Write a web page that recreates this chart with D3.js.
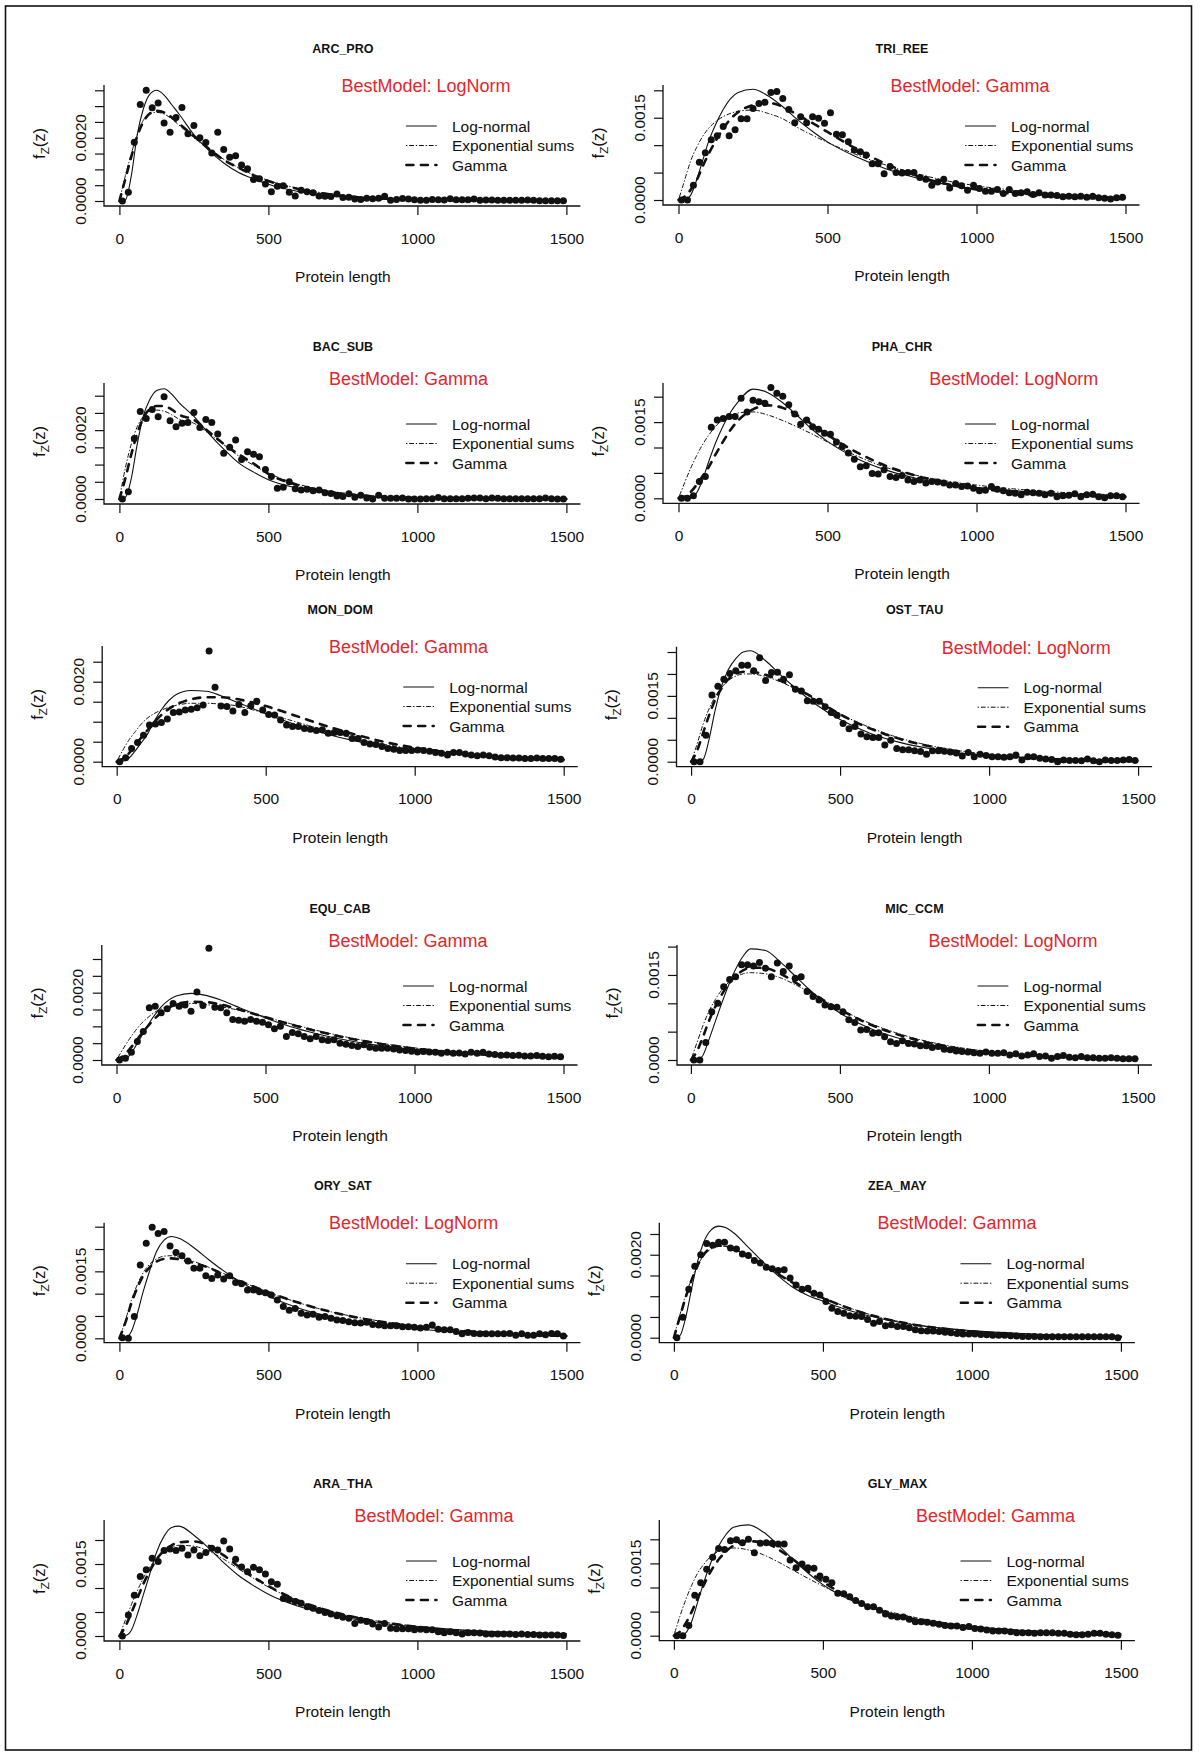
<!DOCTYPE html>
<html><head><meta charset="utf-8">
<script src="https://cdn.jsdelivr.net/npm/d3@7"></script>
<style>
body{margin:0;background:#fff}
svg text{font-family:"Liberation Sans",Arial,Helvetica,sans-serif;fill:#111}
</style>
</head><body>
<svg id="chart" width="1200" height="1757"></svg>
<script>
// ---------------- DATA (density values in units of 1e-4) ----------------
const DENSITY_UNIT = 1e-4;
const proteinLengths = [10,30,50,70,90,110,130,150,170,190,210,230,250,270,290,310,330,350,370,390,410,430,450,470,490,510,530,550,570,590,610,630,650,670,690,710,730,750,770,790,810,830,850,870,890,910,930,950,970,990,1010,1030,1050,1070,1090,1110,1130,1150,1170,1190,1210,1230,1250,1270,1290,1310,1330,1350,1370,1390,1410,1430,1450,1470,1490];
const curveLengths = [0,20,40,60,80,100,125,150,175,200,250,300,350,400,450,500,600,700,800,900,1000,1200,1500];

const speciesNames = ["ARC_PRO","TRI_REE","BAC_SUB","PHA_CHR","MON_DOM","OST_TAU","EQU_CAB","MIC_CCM","ORY_SAT","ZEA_MAY","ARA_THA","GLY_MAX"];
const bestModelLabels = ["LogNorm","Gamma","Gamma","LogNorm","Gamma","LogNorm","Gamma","LogNorm","LogNorm","Gamma","Gamma","Gamma"];
const legendLabels = ["Log-normal","Exponential sums","Gamma"];
const xTickValues = [0,500,1000,1500];
const yTickStep = 0.0005;
const yTickMaxima = [0.0035,0.002,0.003,0.002,0.0025,0.0025,0.003,0.002,0.0025,0.0025,0.002,0.002];
const yTickLabels = [["0.0000","0.0020"],["0.0000","0.0015"],["0.0000","0.0020"],["0.0000","0.0015"],["0.0000","0.0020"],["0.0000","0.0015"],["0.0000","0.0020"],["0.0000","0.0015"],["0.0000","0.0015"],["0.0000","0.0020"],["0.0000","0.0015"],["0.0000","0.0015"]];

// observed points
const arcProObs = [0,2.8,18.6,30.5,35,29.5,31,24.7,21.7,26.4,29.6,21.3,23.9,20,18.5,15.2,21.7,16.3,13.8,14.3,11.4,10.2,6.8,7.0,5.4,2.9,4.7,4.8,2.8,1.6,3.4,2.9,2.6,1.6,1.5,1.4,2.2,1.1,1.2,0.6,0.5,0.9,0.7,0.9,1.5,0.2,0.5,0.8,0.6,0.4,0.2,0.2,0.5,0.4,0.3,0.7,0.4,0.4,0.4,0.6,0.2,0.3,0.3,0.2,0.2,0.2,0.2,0.2,0.3,0.2,0.1,0.1,0.1,0.1,0.1];
const triReeObs = [0,0,2.7,6.9,8.6,11,11.7,13.4,11.7,12.8,14.8,14.8,16.7,17.6,17.8,19.6,19.8,18.5,16.5,14.1,15.2,14.1,15.2,14.9,14.0,15.9,12.0,11.9,10.6,9.1,8.8,8.2,6.6,6.6,4.8,6.1,5.0,4.9,5.0,5.0,4.1,3.8,2.7,3.3,3.8,2.2,3.0,2.6,1.8,2.7,2.1,1.6,1.6,1.9,1.2,1.9,1.2,1.3,1.5,1.0,1.3,0.9,0.9,0.8,0.6,0.7,0.6,0.7,0.5,0.7,0.4,0.3,0.2,0.4,0.5];
const bacSubObs = [0,2.1,17.6,25.4,23.4,26,23.9,29.7,22.7,21,22,22.2,25.1,20.8,23.1,22.2,18.9,13.3,15,17.1,11.5,13.7,13,12.3,8.6,6.5,3.1,3.4,5,3,2.6,2.8,2.4,2.6,1.8,1.6,0.9,0.7,1.5,0.5,1.1,0.3,0,1.1,0.2,0.2,0.2,0.3,0,0,0,0.1,0.1,0.4,0.1,0.1,0.1,0.1,0.2,0.3,0.3,0.1,0.3,0.2,0.1,0.1,0.1,0.1,0.1,0.1,0.1,0.3,0.1,0,0];
const phaChrObs = [0,0,0.5,3.3,4.3,14,15.4,15.7,16.1,16.1,19.7,17,19.3,19,18.7,21.8,20.7,20.1,18.4,16.6,14.6,15.4,14.1,13.6,12.8,12.6,11.1,10.2,8.9,7.7,6.2,6.4,4.9,4.8,5.6,4.3,4.1,4.5,3.6,3.3,3.6,3,3.3,3.2,3,2.6,2.6,2.3,2.4,2,1.5,1.6,2.3,1.8,1.5,1.1,1,0.7,1.2,1.1,1,0.7,1,0.3,0.5,0.6,0.9,0.3,0.7,0.8,0.3,0.1,0.5,0.5,0.3];
const monDomObs = [0,1,3.3,4.8,6.6,9.2,9.4,9.8,10.7,12.3,12.4,12.9,13.1,13.5,14.2,27.7,18.6,13.9,13.8,12.7,14.3,12.3,14,15.1,12.9,11.8,11.7,10.4,9.2,8.8,8.8,8.3,8.1,7.8,8,7.1,7.3,7.3,7.1,5.8,5.8,4.8,4.4,4.3,3.8,3.3,3.1,2.8,2.8,2.8,2.9,2.8,2.6,2.3,2.1,1.7,2.3,2.3,1.9,1.7,1.5,1.7,1.5,1.2,1,1,0.9,0.9,0.8,0.8,0.9,0.8,0.8,0.8,0.6];
const ostTauObs = [0,0,6,15.2,17.2,18.8,20.1,20.7,22,22,20.7,23.7,18.5,20.3,20.4,18.8,19.8,16.5,16.1,13.9,13.8,13.8,12.5,11.2,10.6,8.7,7.5,8,6.3,5.7,5.5,5.5,3.8,4.9,3,2.7,2.7,2.5,2.3,1.7,2.5,2.5,2.4,2.2,2,1.3,2.1,1.1,1.7,1.4,1.1,1.1,1,1.1,1.5,0.4,1.1,1.1,0.8,0.6,0.5,0,0.4,0.3,0.3,0.2,0.6,0.2,0,0.4,0.3,0.3,0.4,0.5,0.3];
const equCabObs = [0,0.5,2.3,5.5,8.5,15.5,16,14,15.2,16.8,16,16.3,14.5,20.2,16.2,33.2,15.7,15.5,14,12,11.8,11.5,12,11.5,11.2,10.5,9.3,10,7,8.2,7.8,7,6.3,7,6,5.8,6,5,4.7,4.3,4,4.5,3.8,3.5,3.5,3.5,3.3,3,2.8,2.6,2.4,2.5,2.4,2.3,2,2.3,2,2.1,1.8,2.3,2,2.3,1.8,1.6,1.4,1.5,1.3,1.4,1.2,1.2,1.3,1.1,1,1.1,1];
const micCcmObs = [0,0,3.1,8.5,10,12.9,14.2,14.7,16.8,16.8,16.6,17.2,16.2,14.7,17.1,15.6,16.6,14.4,14.7,12.1,11.2,10.6,9.7,9.4,9.3,8.5,7.1,6.6,5.3,5.4,4.7,4.8,4.1,3.2,2.9,3.4,2.9,2.8,2.5,2.5,2.2,2.4,1.9,1.8,1.6,1.5,1.4,1.3,1.2,1.4,1.2,1.2,1.3,0.9,1.1,0.7,0.9,1.1,0.6,0.7,0.3,0.6,0.8,0.5,0.4,0.6,0.4,0.4,0.3,0.3,0.4,0.3,0.2,0.2,0.2];
const orySatObs = [0.1,0,4.9,16.4,21.3,24.9,23.5,23.9,20.7,19.2,18.5,17.3,15.7,15.7,14,13.4,14.2,13.3,14,12.5,12.2,10.8,10.8,10.4,10.2,9.7,8.6,7.1,6.3,6.7,5.6,5.2,5.4,4.7,4.9,4.5,4.1,4,3.7,3.5,3.4,3.6,3.1,3,2.8,2.8,2.8,2.6,2.6,2.5,2.3,2.5,3,2,1.9,1.9,1.5,1,1.3,1.1,1,1,1,1,1,1.1,0.7,1,0.7,0.7,1,0.8,1.1,1,0.5];
const zeaMayObs = [0,4.9,11.7,17.2,20,22.7,22.3,23,23,21.6,21.4,20.2,19.8,18.6,18,17,16.6,16.2,16.4,14.4,12.7,11.7,11.9,10.7,10.3,8.7,7.1,6.3,5.9,5.3,5.2,5.1,4.4,3.5,3.9,2.9,3.1,2.7,2.7,2.4,1.9,1.7,1.6,1.6,1.5,1.3,1.2,1,0.9,0.9,0.9,0.8,0.7,0.6,0.6,0.6,0.5,0.4,0.3,0.3,0.3,0.2,0.2,0.2,0.2,0.2,0.2,0.2,0.2,0.2,0.2,0.2,0.2,0.2,0];
const araThaObs = [0,4.4,8.5,12.4,13.8,16.2,15.5,17.8,18.1,17.8,18.3,16.9,17.9,16.7,17.4,18.3,17.9,19.8,18.1,16,14.4,13.4,14.3,13.8,12.9,11.3,10.8,7.8,7.6,7.2,6.8,6.1,5.8,5.3,4.9,4.6,4.2,3.9,3.7,2.6,3.3,3,2.5,1.9,2.6,1.6,1.5,1.5,1.5,1.3,1.4,1.3,1.3,0.9,0.7,0.9,0.7,0.4,0.7,0.7,0.6,0.4,0.4,0.4,0.4,0.4,0.3,0.4,0.3,0.3,0.2,0.2,0.2,0.2,0.1];
const glyMaxObs = [0,0,2.1,8.4,11,13.8,16.3,18.1,17.9,19.7,19.9,19.3,20,17.2,19.2,19.3,19.2,19,19,15.7,14.1,14.9,14.1,14,12.4,11.7,11,8.8,8.7,8.1,7.3,6.7,6,6,5.3,4.5,4.1,3.9,3.9,3.4,2.9,2.9,2.8,2.6,2.4,2.1,2,2,1.7,1.9,1.5,1.4,1.2,1,1,1,0.8,0.6,0.6,0.6,0.5,0.6,0.6,0.6,0.5,0.5,0.3,0.2,0.2,0.3,0.5,0.5,0.3,0.2,0.1];

// fitted curves (at curveLengths)
const arcProLogNormal = [0,0.3,8,21,29,33.5,35,33.5,30.5,27.5,21,16,12,9,7,5.3,3,1.7,1,0.6,0.4,0.15,0.05];
const arcProExpSums   = [0,8,15,21,25.5,27.5,28,27.5,26,24,20,16.5,13.2,10.5,8.3,6.5,4,2.3,1.3,0.75,0.4,0.12,0.03];
const arcProGamma     = [0,7,14,20.5,25,27.5,28.5,28,26.5,24.5,20.5,16.5,13,10.5,8.2,6.3,3.8,2.2,1.2,0.7,0.4,0.12,0.03];
const triReeLogNormal = [0,0,0.8,3.5,7,10.5,13.8,16.5,18.5,19.6,20.2,19,17,14.6,12.5,10.6,7.8,5.6,4,2.8,2,1,0.4];
const triReeExpSums   = [0,3.5,7,9.5,11.5,13,14.3,15.2,15.8,16.2,16.4,15.8,14.8,13.2,11.8,10.5,8.2,6.3,4.8,3.5,2.6,1.4,0.5];
const triReeGamma     = [0,0.6,1.8,3.5,6,8.3,10.8,13,14.8,16,17.3,17.7,17,15.5,14,12.4,9.2,6.5,4.4,2.9,1.9,0.8,0.2];
const bacSubLogNormal = [0,0.5,6,16,24,28.5,31.5,32,30.5,28,24,19,14.5,10.5,7.8,5.6,3.1,1.7,0.9,0.5,0.3,0.1,0.03];
const bacSubExpSums   = [0,9,16,21,24,25.5,25.8,25.5,24.5,23.2,22,19,15.8,12.5,9.8,7.5,4.3,2.4,1.3,0.7,0.4,0.1,0.03];
const bacSubGamma     = [0,6,13,19,23.5,26,27,27,26,24.5,23,19.5,16,13,10.3,7.3,4,2.1,1.1,0.6,0.3,0.1,0.02];
const phaChrLogNormal = [0,0,0.1,1,3.5,7,11,14.3,17,19,21.5,20.8,18.8,16.2,13.5,11.2,7.8,5.5,3.9,2.8,2.1,1.2,0.5];
const phaChrExpSums   = [0,3,5.8,8.3,10.5,12.3,14.2,15.5,16.3,16.8,17,16.4,15.3,14,12.6,11.1,8.3,6,4.5,3.4,2.6,1.5,0.6];
const phaChrGamma     = [0,0.3,1.2,2.6,4.3,6,8.7,11.2,13.5,15.3,17.5,18.3,17.8,16.3,14.5,12.5,9,6.3,4.4,3,2,0.9,0.3];
const monDomLogNormal = [0,0.1,0.8,2.5,4.5,6.5,10,13,15.3,16.8,17.8,17.6,16.5,15,13.5,12,9.3,7,5.2,3.9,2.9,1.6,0.7];
const monDomExpSums   = [0,2.8,5.3,7.3,9.2,10.7,12,12.9,13.6,14.1,14.6,14.6,14.4,14,13.1,12.1,10,7.8,5.8,4.3,3.2,1.7,0.7];
const monDomGamma     = [0,0.7,2,3.8,5.8,7.6,9.8,11.7,13.2,14.3,15.6,16.1,16.1,15.7,14.9,13.9,11.5,9,6.8,4.9,3.5,1.7,0.5];
const ostTauLogNormal = [0,0,0.5,5,11.5,16.8,21,23.5,25,25.3,23,19.8,16.8,14,11.6,9.6,6.5,4.4,3,2,1.4,0.7,0.25];
const ostTauExpSums   = [0,4,8.5,12,14.7,16.7,18.5,19.5,20,20,19.4,18.2,16.6,14.8,12.8,10.9,7.8,5.4,3.7,2.5,1.7,0.7,0.2];
const ostTauGamma     = [0,2.5,6.5,10.5,14,16.5,18.8,20,20.5,20.5,19.8,18.5,16.8,15,12.8,10.8,7.6,5.2,3.5,2.3,1.5,0.6,0.15];
const equCabLogNormal = [0,0.1,1,3.5,6.5,9.5,13,15.8,17.8,19,19.8,19.2,17.8,16,14.2,12.5,9.5,7.2,5.4,4.1,3.1,1.8,0.8];
const equCabExpSums   = [0,3,5.8,8.3,10.5,12.2,14,15.2,16,16.5,16.8,16.5,15.8,15,14,12.8,10.4,8.2,6.3,4.8,3.6,2,0.8];
const equCabGamma     = [0,1,2.8,5,7.3,9.5,12,14,15.5,16.5,17.3,17.2,16.5,15.3,14,12.7,10.2,8,6.1,4.6,3.4,1.8,0.7];
const micCcmLogNormal = [0,0,0.8,3.5,6.5,9.5,13,16,18.3,19.6,19.3,17.3,14.8,12.3,10.1,8.3,5.6,3.8,2.6,1.8,1.3,0.6,0.2];
const micCcmExpSums   = [0,3,6,8.5,10.5,12.1,13.6,14.6,15.2,15.4,15.2,14.5,13.3,11.9,10.4,9,6.5,4.6,3.2,2.2,1.5,0.65,0.2];
const micCcmGamma     = [0,1.5,4,6.8,9.2,11.2,13.3,14.8,15.8,16.3,16.2,15.2,13.7,12,10.4,8.9,6.3,4.4,3,2,1.3,0.55,0.15];
const orySatLogNormal = [0,0.1,1.5,5.5,10.5,14.8,19.5,22,22.8,22.4,20.3,17.6,15.1,12.9,11,9.4,6.8,5,3.7,2.8,2.1,1.2,0.55];
const orySatExpSums   = [0,4,8.5,12,14.7,16.5,17.8,18.4,18.5,18.2,17.2,15.9,14.5,13,11.6,10.3,8,6.1,4.7,3.6,2.7,1.5,0.6];
const orySatGamma     = [0,3.5,7.8,11.3,14,15.8,17.2,17.8,17.9,17.7,16.9,15.8,14.3,12.9,11.6,10.3,8,6.1,4.6,3.5,2.6,1.4,0.5];
const zeaMayLogNormal = [0,0.5,5,12,18.5,23,26,26.9,26.5,25.3,21.8,18.2,14.9,12.1,10.2,8.8,6.3,4.5,3.2,2.3,1.7,0.9,0.35];
const zeaMayExpSums   = [0,5.5,10.3,14.3,17.5,19.8,21.4,22,22,21.4,19.7,17.6,15.4,13.3,11.4,9.7,6.9,4.8,3.3,2.3,1.6,0.7,0.2];
const zeaMayGamma     = [0,5,9.8,14,17.5,20,21.7,22.2,22,21.4,19.6,17.5,15.3,13.2,11.3,9.6,6.8,4.7,3.2,2.2,1.5,0.65,0.2];
const araThaLogNormal = [0,0.1,1.2,4.5,8.5,12.5,17.5,20.8,22.6,22.9,21,18.3,15.3,12.6,10.5,8.7,6.2,4.6,3.4,2.5,1.9,1.1,0.5];
const araThaExpSums   = [0,3.3,6.5,9.4,12,14.2,16.3,17.7,18.5,18.9,18.7,17.7,16,14,12,10.2,7.3,5.3,3.8,2.8,2,1,0.4];
const araThaGamma     = [0,2,4.8,7.8,10.8,13.3,16,17.8,18.9,19.5,19.7,18.8,16.8,14.5,12.3,10.4,7.4,5.3,3.8,2.7,1.9,0.9,0.3];
const glyMaxLogNormal = [0,0,0.6,3,7,11,15.3,18.6,21,22.5,23,21.5,18.8,15.8,13,10.6,7.2,5.1,3.6,2.6,1.9,1,0.4];
const glyMaxExpSums   = [0,4,7.5,10.5,13,14.8,16.5,17.5,18,18.2,17.8,16.8,15.3,13.6,11.9,10.3,7.5,5.4,3.9,2.8,2,1,0.4];
const glyMaxGamma     = [0,0.8,2.6,5,7.8,10.5,13.5,15.8,17.5,18.7,19.6,19.4,17.9,15.8,13.4,11.2,7.6,5.1,3.4,2.2,1.5,0.6,0.2];

const observedSeries = [arcProObs,triReeObs,bacSubObs,phaChrObs,monDomObs,ostTauObs,equCabObs,micCcmObs,orySatObs,zeaMayObs,araThaObs,glyMaxObs];
const logNormalSeries = [arcProLogNormal,triReeLogNormal,bacSubLogNormal,phaChrLogNormal,monDomLogNormal,ostTauLogNormal,equCabLogNormal,micCcmLogNormal,orySatLogNormal,zeaMayLogNormal,araThaLogNormal,glyMaxLogNormal];
const expSumsSeries = [arcProExpSums,triReeExpSums,bacSubExpSums,phaChrExpSums,monDomExpSums,ostTauExpSums,equCabExpSums,micCcmExpSums,orySatExpSums,zeaMayExpSums,araThaExpSums,glyMaxExpSums];
const gammaSeries = [arcProGamma,triReeGamma,bacSubGamma,phaChrGamma,monDomGamma,ostTauGamma,equCabGamma,micCcmGamma,orySatGamma,zeaMayGamma,araThaGamma,glyMaxGamma];

// ---------------- LAYOUT (pixels) ----------------
const panelLayout = [
 {bl:104,   bt:85,     bb:206,    x0:119.4, y0:201,    yTop:90.3,   bx:306.6, by:1},
 {bl:663,   bt:85,     bb:205,    x0:678.5, y0:200,    yTop:90.3,   bx:291.5, by:1},
 {bl:104,   bt:383,    bb:504,    x0:119.4, y0:499,    yTop:395.7,  bx:289.2, by:-4},
 {bl:663,   bt:383,    bb:503.3,  x0:678.5, y0:498.3,  yTop:396.7,  bx:335.2, by:-4},
 {bl:102.2, bt:646,    bb:766.7,  x0:116.7, y0:761.7,  yTop:661.7,  bx:291.9, by:1},
 {bl:676.5, bt:646.7,  bb:766.7,  x0:691.1, y0:761.7,  yTop:652,    bx:335.2, by:1},
 {bl:101.8, bt:945,    bb:1065,   x0:116.5, y0:1060,   yTop:959,    bx:291.5, by:-4},
 {bl:677,   bt:945,    bb:1065,   x0:690.9, y0:1060,   yTop:946.6,  bx:322.1, by:-4},
 {bl:104.1, bt:1222.7, bb:1342.7, x0:119.4, y0:1338.3, yTop:1226.7, bx:294.2, by:0},
 {bl:659.3, bt:1222.7, bb:1342.7, x0:673.9, y0:1337.7, yTop:1234,   bx:283.1, by:0},
 {bl:104.1, bt:1520,   bb:1641,   x0:119.4, y0:1636,   yTop:1540,   bx:314.6, by:-4},
 {bl:659.3, bt:1520,   bb:1640.7, x0:673.9, y0:1635.7, yTop:1539.3, bx:321.6, by:-4}
];
const X_SPAN = 447, RIGHT_EXT = 461;

// ---------------- DRAW ----------------
const svg = d3.select("#chart");
svg.append("rect").attr("x",0).attr("y",0).attr("width",1200).attr("height",1757).attr("fill","#fff");
svg.append("rect").attr("x",5.5).attr("y",6).attr("width",1186).attr("height",1744)
  .attr("fill","none").attr("stroke","#111").attr("stroke-width",1.6);

const lineStyles = [
  {width:1.1, dash:null},
  {width:1.0, dash:"0.6,2.6,4,2.6"},
  {width:2.6, dash:"7,7.5"}
];
const RED = "#e3262b";

speciesNames.forEach((name, i) => {
  const L = panelLayout[i];
  const g = svg.append("g");
  const x = d3.scaleLinear().domain([0,1500]).range([L.x0, L.x0 + X_SPAN]);
  const y = d3.scaleLinear().domain([0, yTickMaxima[i]]).range([L.y0, L.yTop]);
  const right = L.x0 + RIGHT_EXT;

  // L-shaped box
  g.append("path").attr("d", `M${L.bl},${L.bt}V${L.bb}H${right}`)
    .attr("fill","none").attr("stroke","#111").attr("stroke-width",1.3);

  // x axis ticks + labels
  const xAxis = d3.axisBottom(x).tickValues(xTickValues).tickSize(9).tickPadding(14).tickFormat(d3.format("d"));
  const gx = g.append("g").attr("transform",`translate(0,${L.bb})`).call(xAxis);
  gx.select(".domain").remove();
  gx.selectAll("line").attr("stroke","#111").attr("stroke-width",1.2);
  gx.selectAll("text").attr("font-size","15.5px").attr("font-family","Liberation Sans, Arial, sans-serif")
    .attr("fill","#111").attr("y",32).attr("dy","0.36em");

  // y axis ticks
  const yTicks = d3.range(0, yTickMaxima[i] + 1e-9, yTickStep);
  const labelled = yTickLabels[i];
  const yAxis = d3.axisLeft(y).tickValues(yTicks).tickSize(9).tickFormat("");
  const gy = g.append("g").attr("transform",`translate(${L.bl},0)`).call(yAxis);
  gy.select(".domain").remove();
  gy.selectAll("line").attr("stroke","#111").attr("stroke-width",1.2);
  labelled.forEach(lbl => {
    g.append("text").attr("transform",`translate(${L.bl-24},${y(+lbl)}) rotate(-90)`)
      .attr("text-anchor","middle").attr("dy","0.36em").attr("font-size","15.5px").text(lbl);
  });

  // y label f_Z(z)
  const yl = g.append("text").attr("transform",`translate(${L.bl-65},${(L.bt+L.bb)/2 - 2}) rotate(-90)`)
    .attr("text-anchor","middle").attr("dy","0.36em").attr("font-size","16.5px");
  yl.append("tspan").text("f");
  yl.append("tspan").attr("font-size","11.5px").attr("dy","4").text("Z");
  yl.append("tspan").attr("dy","-4").text("(z)");

  // x label
  g.append("text").attr("x", L.x0 + X_SPAN/2).attr("y", L.bb + 70.5).attr("dy","0.36em")
    .attr("text-anchor","middle").attr("font-size","15.5px").text("Protein length");

  // title
  g.append("text").attr("x", L.x0 + X_SPAN/2).attr("y", L.bt - 37).attr("dy","0.36em")
    .attr("text-anchor","middle").attr("font-size","12.5px").attr("font-weight","bold").text(name);

  // Best model
  g.append("text").attr("x", L.x0 + L.bx).attr("y", L.bt + L.by).attr("dy","0.36em")
    .attr("text-anchor","middle").attr("font-size","18px").style("fill",RED)
    .text("BestModel: " + bestModelLabels[i]);

  // curves
  const curveSets = [logNormalSeries[i], expSumsSeries[i], gammaSeries[i]];
  const line = d3.line().x(d => x(d[0])).y(d => y(d[1] * DENSITY_UNIT)).curve(d3.curveMonotoneX);
  curveSets.forEach((vals, k) => {
    const pts = curveLengths.map((len, j) => [len, vals[j]]);
    const p = g.append("path").attr("d", line(pts)).attr("fill","none")
      .attr("stroke","#111").attr("stroke-width", lineStyles[k].width)
      .attr("stroke-linecap","round").attr("stroke-linejoin","round");
    if (lineStyles[k].dash) p.attr("stroke-dasharray", lineStyles[k].dash);
  });

  // observed points
  g.append("g").selectAll("circle").data(observedSeries[i]).join("circle")
    .attr("cx", (d, j) => x(proteinLengths[j]))
    .attr("cy", d => y(d * DENSITY_UNIT))
    .attr("r", 3.5).attr("fill","#111");

  // legend
  legendLabels.forEach((lab, k) => {
    const ly = L.bt + 41 + 19.5 * k;
    const seg = g.append("line").attr("x1", L.x0 + 287).attr("x2", L.x0 + 317)
      .attr("y1", ly).attr("y2", ly).attr("stroke","#111")
      .attr("stroke-width", lineStyles[k].width).attr("stroke-linecap","round");
    if (lineStyles[k].dash) seg.attr("stroke-dasharray", lineStyles[k].dash);
    g.append("text").attr("x", L.x0 + 332.5).attr("y", ly).attr("dy","0.36em")
      .attr("font-size","15.5px").text(lab);
  });
});
</script>
</body></html>
